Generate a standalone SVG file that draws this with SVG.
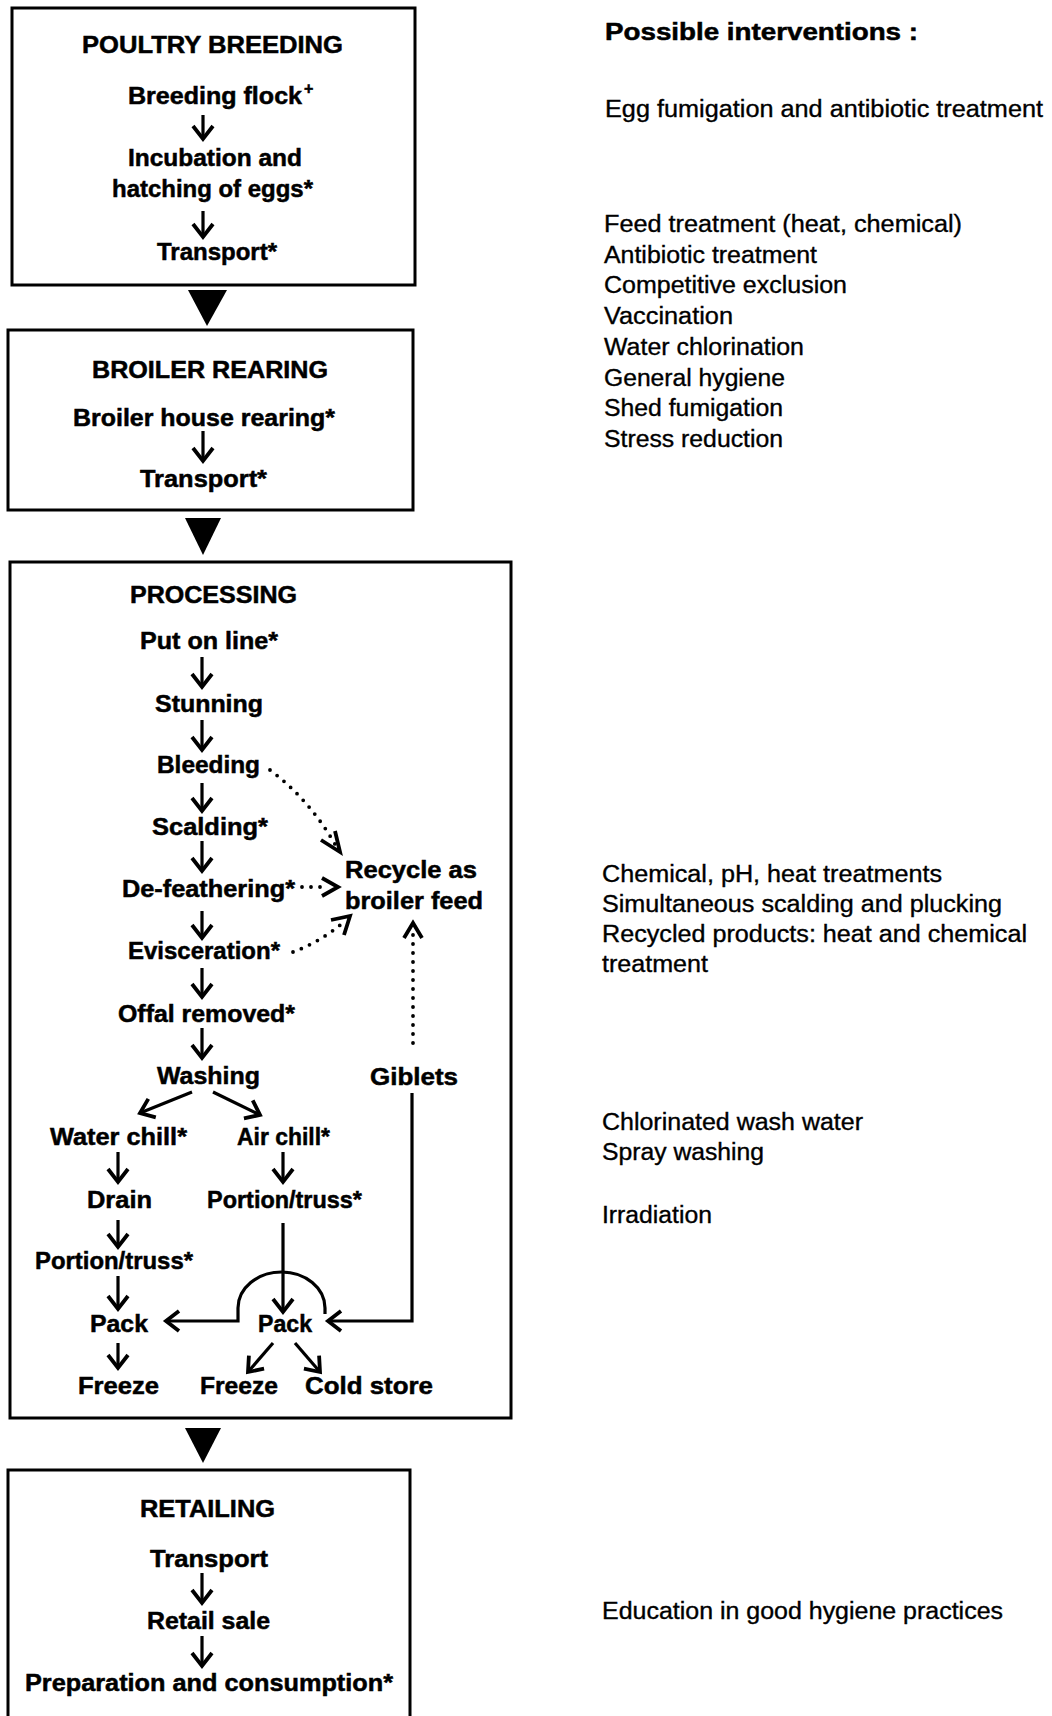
<svg xmlns="http://www.w3.org/2000/svg" width="1052" height="1716" viewBox="0 0 1052 1716">
<defs>
<style>
.box{fill:none;stroke:#000;stroke-width:3}
.t{font-family:"Liberation Sans",Arial,sans-serif;font-weight:bold;font-size:24px;fill:#000;stroke:#000;stroke-width:0.5}
.r{font-family:"Liberation Sans",Arial,sans-serif;font-size:23px;fill:#000;stroke:#000;stroke-width:0.35}
.ln{fill:none;stroke:#000;stroke-width:3.2}
.dot{fill:none;stroke:#000;stroke-width:3.8;stroke-linecap:round;stroke-dasharray:0 9}
.hd{fill:none;stroke:#000;stroke-width:3.8}
.tri{fill:#000}
</style>
<marker id="ah" markerUnits="userSpaceOnUse" markerWidth="30" markerHeight="30" viewBox="-16 -15 20 30" refX="0" refY="0" orient="auto" overflow="visible">
<path d="M -13 -10 L 0 0 L -13 10" fill="none" stroke="#000" stroke-width="3.8" stroke-linejoin="miter"/>
</marker>
</defs>
<rect width="1052" height="1716" fill="#fff"/>

<g id="poultry-breeding">
<rect class="box" x="12" y="8" width="403" height="277"/>
<text class="t" x="82" y="53" textLength="261" lengthAdjust="spacingAndGlyphs">POULTRY BREEDING</text>
<text class="t" x="128" y="104" textLength="174" lengthAdjust="spacingAndGlyphs">Breeding flock</text>
<text class="t" x="304" y="94" style="font-size:16px">+</text>
<text class="t" x="128" y="166" textLength="174" lengthAdjust="spacingAndGlyphs">Incubation and</text>
<text class="t" x="112" y="197" textLength="201" lengthAdjust="spacingAndGlyphs">hatching of eggs*</text>
<text class="t" x="157" y="260" textLength="120" lengthAdjust="spacingAndGlyphs">Transport*</text>
</g>

<g id="broiler-rearing">
<rect class="box" x="8" y="330" width="405" height="180"/>
<text class="t" x="92" y="378" textLength="236" lengthAdjust="spacingAndGlyphs">BROILER REARING</text>
<text class="t" x="73" y="426" textLength="262" lengthAdjust="spacingAndGlyphs">Broiler house rearing*</text>
<text class="t" x="140" y="487" textLength="127" lengthAdjust="spacingAndGlyphs">Transport*</text>
</g>

<g id="processing">
<rect class="box" x="10" y="562" width="501" height="856"/>
<text class="t" x="130" y="603" textLength="167" lengthAdjust="spacingAndGlyphs">PROCESSING</text>
<text class="t" x="140" y="649" textLength="138" lengthAdjust="spacingAndGlyphs">Put on line*</text>
<text class="t" x="155" y="712" textLength="108" lengthAdjust="spacingAndGlyphs">Stunning</text>
<text class="t" x="157" y="773" textLength="103" lengthAdjust="spacingAndGlyphs">Bleeding</text>
<text class="t" x="152" y="835" textLength="116" lengthAdjust="spacingAndGlyphs">Scalding*</text>
<text class="t" x="122" y="897" textLength="173" lengthAdjust="spacingAndGlyphs">De-feathering*</text>
<text class="t" x="345" y="878" textLength="132" lengthAdjust="spacingAndGlyphs">Recycle as</text>
<text class="t" x="345" y="909" textLength="138" lengthAdjust="spacingAndGlyphs">broiler feed</text>
<text class="t" x="128" y="959" textLength="152" lengthAdjust="spacingAndGlyphs">Evisceration*</text>
<text class="t" x="118" y="1022" textLength="177" lengthAdjust="spacingAndGlyphs">Offal removed*</text>
<text class="t" x="157" y="1084" textLength="103" lengthAdjust="spacingAndGlyphs">Washing</text>
<text class="t" x="370" y="1085" textLength="88" lengthAdjust="spacingAndGlyphs">Giblets</text>
<text class="t" x="50" y="1145" textLength="137" lengthAdjust="spacingAndGlyphs">Water chill*</text>
<text class="t" x="237" y="1145" textLength="93" lengthAdjust="spacingAndGlyphs">Air chill*</text>
<text class="t" x="87" y="1208" textLength="65" lengthAdjust="spacingAndGlyphs">Drain</text>
<text class="t" x="207" y="1208" textLength="155" lengthAdjust="spacingAndGlyphs">Portion/truss*</text>
<text class="t" x="35" y="1269" textLength="158" lengthAdjust="spacingAndGlyphs">Portion/truss*</text>
<text class="t" x="90" y="1332" textLength="58" lengthAdjust="spacingAndGlyphs">Pack</text>
<text class="t" x="258" y="1332" textLength="54" lengthAdjust="spacingAndGlyphs">Pack</text>
<text class="t" x="78" y="1394" textLength="81" lengthAdjust="spacingAndGlyphs">Freeze</text>
<text class="t" x="200" y="1394" textLength="78" lengthAdjust="spacingAndGlyphs">Freeze</text>
<text class="t" x="305" y="1394" textLength="128" lengthAdjust="spacingAndGlyphs">Cold store</text>
</g>

<g id="retailing">
<path class="box" d="M 8 1730 L 8 1470 L 410 1470 L 410 1730"/>
<text class="t" x="140" y="1517" textLength="135" lengthAdjust="spacingAndGlyphs">RETAILING</text>
<text class="t" x="150" y="1567" textLength="118" lengthAdjust="spacingAndGlyphs">Transport</text>
<text class="t" x="147" y="1629" textLength="123" lengthAdjust="spacingAndGlyphs">Retail sale</text>
<text class="t" x="25" y="1691" textLength="368" lengthAdjust="spacingAndGlyphs">Preparation and consumption*</text>
</g>

<g id="interventions">
<text class="t" x="605" y="40" style="font-size:23px" textLength="313" lengthAdjust="spacingAndGlyphs">Possible interventions :</text>
<text class="r" x="605" y="117" textLength="438" lengthAdjust="spacingAndGlyphs">Egg fumigation and antibiotic treatment</text>
<text class="r" x="604" y="232" textLength="358" lengthAdjust="spacingAndGlyphs">Feed treatment (heat, chemical)</text>
<text class="r" x="604" y="263" textLength="213" lengthAdjust="spacingAndGlyphs">Antibiotic treatment</text>
<text class="r" x="604" y="293" textLength="243" lengthAdjust="spacingAndGlyphs">Competitive exclusion</text>
<text class="r" x="604" y="324" textLength="129" lengthAdjust="spacingAndGlyphs">Vaccination</text>
<text class="r" x="604" y="355" textLength="200" lengthAdjust="spacingAndGlyphs">Water chlorination</text>
<text class="r" x="604" y="386" textLength="181" lengthAdjust="spacingAndGlyphs">General hygiene</text>
<text class="r" x="604" y="416" textLength="179" lengthAdjust="spacingAndGlyphs">Shed fumigation</text>
<text class="r" x="604" y="447" textLength="179" lengthAdjust="spacingAndGlyphs">Stress reduction</text>
<text class="r" x="602" y="882" textLength="340" lengthAdjust="spacingAndGlyphs">Chemical, pH, heat treatments</text>
<text class="r" x="602" y="912" textLength="400" lengthAdjust="spacingAndGlyphs">Simultaneous scalding and plucking</text>
<text class="r" x="602" y="942" textLength="425" lengthAdjust="spacingAndGlyphs">Recycled products: heat and chemical</text>
<text class="r" x="602" y="972" textLength="106" lengthAdjust="spacingAndGlyphs">treatment</text>
<text class="r" x="602" y="1130" textLength="261" lengthAdjust="spacingAndGlyphs">Chlorinated wash water</text>
<text class="r" x="602" y="1160" textLength="162" lengthAdjust="spacingAndGlyphs">Spray washing</text>
<text class="r" x="602" y="1223" textLength="110" lengthAdjust="spacingAndGlyphs">Irradiation</text>
<text class="r" x="602" y="1619" textLength="401" lengthAdjust="spacingAndGlyphs">Education in good hygiene practices</text>
</g>

<g id="connectors">
<polygon class="tri" points="188,290 227,290 207,326"/>
<polygon class="tri" points="185,518 221,518 203,555"/>
<polygon class="tri" points="185,1428 221,1428 203,1463"/>

<line class="ln" x1="203" y1="115" x2="203" y2="139" marker-end="url(#ah)"/>
<line class="ln" x1="203" y1="211" x2="203" y2="237" marker-end="url(#ah)"/>
<line class="ln" x1="203" y1="431" x2="203" y2="461" marker-end="url(#ah)"/>

<line class="ln" x1="202" y1="657" x2="202" y2="687" marker-end="url(#ah)"/>
<line class="ln" x1="202" y1="720" x2="202" y2="750" marker-end="url(#ah)"/>
<line class="ln" x1="202" y1="783" x2="202" y2="811" marker-end="url(#ah)"/>
<line class="ln" x1="202" y1="841" x2="202" y2="871" marker-end="url(#ah)"/>
<line class="ln" x1="202" y1="911" x2="202" y2="938" marker-end="url(#ah)"/>
<line class="ln" x1="202" y1="968" x2="202" y2="997" marker-end="url(#ah)"/>
<line class="ln" x1="202" y1="1028" x2="202" y2="1058" marker-end="url(#ah)"/>
<line class="ln" x1="192" y1="1092" x2="140" y2="1113" marker-end="url(#ah)"/>
<line class="ln" x1="213" y1="1092" x2="260" y2="1115" marker-end="url(#ah)"/>
<line class="ln" x1="118" y1="1152" x2="118" y2="1182" marker-end="url(#ah)"/>
<line class="ln" x1="283" y1="1152" x2="283" y2="1182" marker-end="url(#ah)"/>
<line class="ln" x1="118" y1="1220" x2="118" y2="1247" marker-end="url(#ah)"/>
<line class="ln" x1="118" y1="1276" x2="118" y2="1309" marker-end="url(#ah)"/>
<line class="ln" x1="118" y1="1343" x2="118" y2="1368" marker-end="url(#ah)"/>
<line class="ln" x1="273" y1="1343" x2="248" y2="1372" marker-end="url(#ah)"/>
<line class="ln" x1="295" y1="1343" x2="320" y2="1372" marker-end="url(#ah)"/>
<line class="ln" x1="283" y1="1223" x2="283" y2="1312" marker-end="url(#ah)"/>
<path class="ln" d="M 325 1314 L 325 1308 A 43.5 36 0 0 0 238 1308 L 238 1321 L 166 1321" marker-end="url(#ah)"/>
<path class="ln" d="M 412 1093 L 412 1321 L 328 1321" marker-end="url(#ah)"/>

<line class="ln" x1="202" y1="1573" x2="202" y2="1603" marker-end="url(#ah)"/>
<line class="ln" x1="202" y1="1636" x2="202" y2="1666" marker-end="url(#ah)"/>

<path class="dot" d="M 270 770 Q 310 800 336 846"/>
<path class="hd" d="M 321 840 L 340 852 L 335 831"/>
<line class="dot" x1="302" y1="887" x2="328" y2="887"/>
<path class="hd" d="M 322 878 L 338 887 L 322 896"/>
<path class="dot" d="M 293 952 Q 320 942 344 922"/>
<path class="hd" d="M 331 920 L 350 916 L 344 935"/>
<line class="dot" x1="413" y1="1043" x2="413" y2="932"/>
<path class="hd" d="M 404 938 L 413 923 L 422 938"/>
</g>
</svg>
